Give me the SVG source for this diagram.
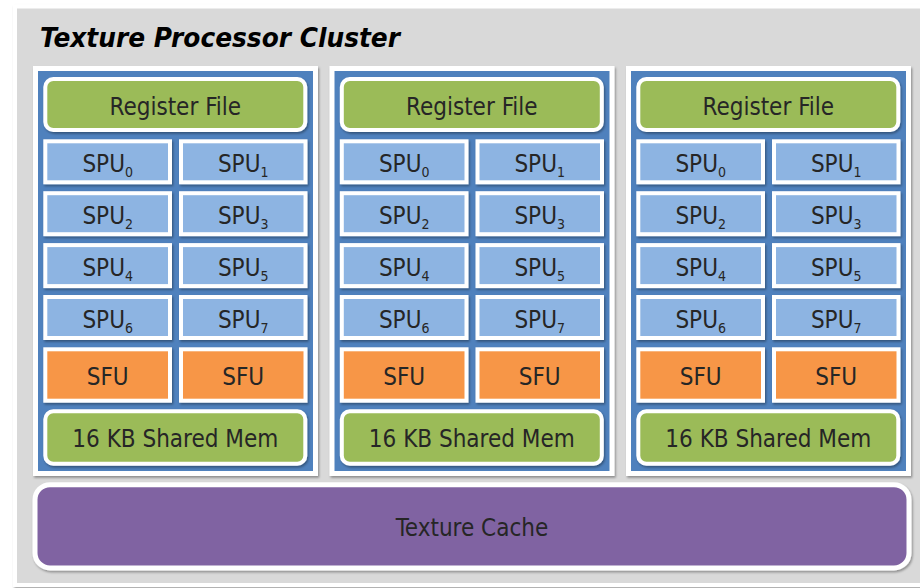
<svg xmlns="http://www.w3.org/2000/svg" width="920" height="588" viewBox="0 0 920 588">
<defs>
<filter id="sh" x="-10%" y="-10%" width="120%" height="130%">
<feDropShadow dx="1.2" dy="1.8" stdDeviation="1.2" flood-color="#000" flood-opacity="0.35"/>
</filter>
<g id="blk">
<rect class="blue" x="35.5" y="68.5" width="280" height="405" filter="url(#sh)"/>
<g id="rf"><rect class="green" x="45.3" y="79" width="260" height="51" rx="8" filter="url(#sh)"/><text class="lbl" x="175.3" y="114.5">Register File</text></g>
<g id="spu0"><rect class="spu" x="45.3" y="141.3" width="124.7" height="41" filter="url(#sh)"/><text class="lbl" x="107.7" y="172">SPU<tspan class="sub" dy="5">0</tspan></text></g>
<g id="spu1"><rect class="spu" x="181" y="141.3" width="124.5" height="41" filter="url(#sh)"/><text class="lbl" x="243.2" y="172">SPU<tspan class="sub" dy="5">1</tspan></text></g>
<g id="spu2"><rect class="spu" x="45.3" y="193.2" width="124.7" height="41" filter="url(#sh)"/><text class="lbl" x="107.7" y="224">SPU<tspan class="sub" dy="5">2</tspan></text></g>
<g id="spu3"><rect class="spu" x="181" y="193.2" width="124.5" height="41" filter="url(#sh)"/><text class="lbl" x="243.2" y="224">SPU<tspan class="sub" dy="5">3</tspan></text></g>
<g id="spu4"><rect class="spu" x="45.3" y="245.1" width="124.7" height="41" filter="url(#sh)"/><text class="lbl" x="107.7" y="276">SPU<tspan class="sub" dy="5">4</tspan></text></g>
<g id="spu5"><rect class="spu" x="181" y="245.1" width="124.5" height="41" filter="url(#sh)"/><text class="lbl" x="243.2" y="276">SPU<tspan class="sub" dy="5">5</tspan></text></g>
<g id="spu6"><rect class="spu" x="45.3" y="297" width="124.7" height="41" filter="url(#sh)"/><text class="lbl" x="107.7" y="328">SPU<tspan class="sub" dy="5">6</tspan></text></g>
<g id="spu7"><rect class="spu" x="181" y="297" width="124.5" height="41" filter="url(#sh)"/><text class="lbl" x="243.2" y="328">SPU<tspan class="sub" dy="5">7</tspan></text></g>
<g id="sfu0"><rect class="sfu" x="45.3" y="349.3" width="124.7" height="51.4" filter="url(#sh)"/><text class="lbl" x="107.7" y="385">SFU</text></g>
<g id="sfu1"><rect class="sfu" x="181" y="349.3" width="124.5" height="51.4" filter="url(#sh)"/><text class="lbl" x="243.2" y="385">SFU</text></g>
<g id="smem"><rect class="green" x="45.3" y="411.3" width="260" height="52.4" rx="8" filter="url(#sh)"/><text class="lbl" x="175.3" y="446.7" textLength="206" lengthAdjust="spacingAndGlyphs">16 KB Shared Mem</text></g>
</g>
</defs>
<style>
.blue{fill:#4f81bd;stroke:#fff;stroke-width:5}
.green{fill:#9bbb59;stroke:#fff;stroke-width:4}
.spu{fill:#8db4e2;stroke:#fff;stroke-width:4}
.sfu{fill:#f79646;stroke:#fff;stroke-width:4}
.lbl{font-family:"DejaVu Sans Condensed","DejaVu Sans",sans-serif;font-stretch:condensed;font-size:24px;fill:#262626;text-anchor:middle}
.sub{font-size:14px}
.title{font-family:"DejaVu Sans Condensed","DejaVu Sans",sans-serif;font-stretch:condensed;font-weight:bold;font-style:italic;font-size:27px;fill:#000}
</style>
<rect width="920" height="588" fill="#fff"/>
<rect x="15" y="6.5" width="920" height="578.5" fill="#d9d9d9" stroke="#fff" stroke-width="4" filter="url(#sh)"/>
<text class="title" x="40" y="47" textLength="360" lengthAdjust="spacingAndGlyphs">Texture Processor Cluster</text>
<g id="tpc1"><use href="#blk"/></g>
<g id="tpc2" transform="translate(296.5,0)"><use href="#blk"/></g>
<g id="tpc3" transform="translate(593,0)"><use href="#blk"/></g>
<g id="texcache">
<rect x="35" y="484.7" width="874" height="83.3" rx="15" fill="#8064a2" stroke="#fff" stroke-width="5" filter="url(#sh)"/>
<text class="lbl" x="472" y="536">Texture Cache</text>
</g>
<g id="connectors"/>
</svg>
